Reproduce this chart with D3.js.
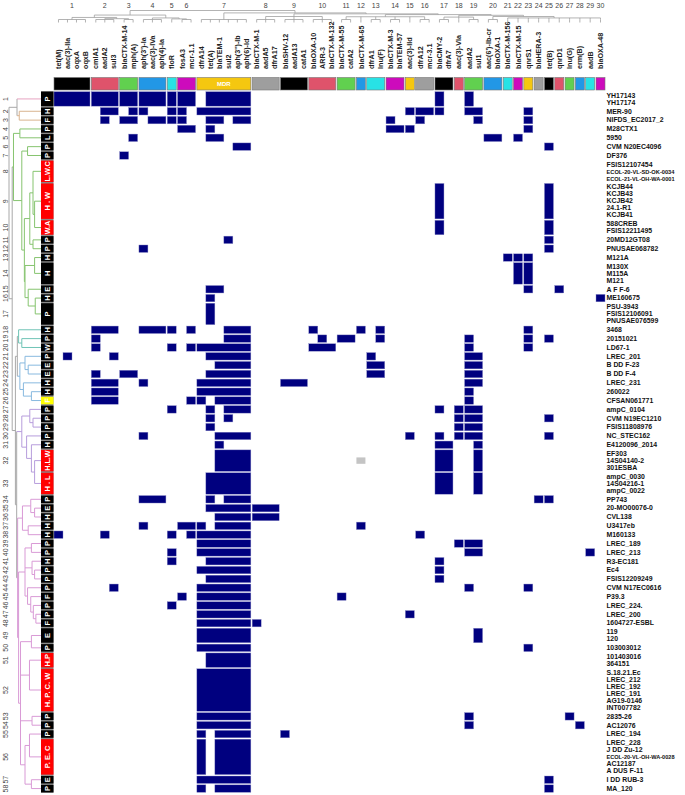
<!DOCTYPE html>
<html><head><meta charset="utf-8">
<script src="https://cdn.jsdelivr.net/npm/d3@7"></script>
<style>body{margin:0;background:#fff} svg{display:block} text{font-family:"Liberation Sans",Arial,sans-serif}
.nar{font-family:"Liberation Sans Narrow","Arial Narrow","Liberation Sans",Arial,sans-serif}</style>
</head><body><svg id="c" width="685" height="795"></svg>
<script>
// ---------------- DATA ----------------
const genes = ["tet(M)","aac(3)-IIa","oqxA","oqxB","cmlA1","aadA2","sul3","blaCTX-M-14","mph(A)",
 "aph(3')-Ia","aac(3)-IVa","aph(4)-Ia","floR","fosA3","mcr-1.1","dfrA14","tet(A)","blaTEM-1","sul2",
 "aph(3'')-Ib","aph(6)-Id","blaCTX-M-1","aadA5","dfrA17","blaSHV-12","aadA13","catA1","blaOXA-10","ARR-3",
 "blaCTX-M-132","blaCTX-M-55","catA2","blaCTX-M-65","dfrA1","lnu(F)","blaCTX-M-3","blaTEM-57","aac(3)-IId",
 "dfrA12","mcr-3.1","blaCMY-2","dfrA7","aac(3)-VIa","aadA2","sul1","aac(6')-Ib-cr","blaOXA-1","blaCTX-M-156",
 "blaCTX-M-15","qnrS1","blaHERA-3","tet(B)","qnrD1","lnu(G)","erm(B)","aadB","blaOXA-48"];
const geneGroup = [1,1,1,1,2,2,2,3,3,4,4,4,5,6,6,7,7,7,7,7,7,8,8,8,9,9,9,10,10,10,11,11,12,13,13,14,14,15,16,16,
 17,17,18,19,19,20,20,21,22,23,24,25,26,27,28,29,30];
const groupColors = ["#000000","#DF536B","#61D04F","#2297E6","#28E2E5","#CD0BBC","#F5C710","#9E9E9E"];
const groupLabels = {7: "MDR"};
const clusterSizes = [2,1,1,1,1,1,1,3,5,2,1,1,1,3,1,1,3,1,1,1,1,1,1,1,1,1,1,1,1,1,1,3,3,1,1,1,1,1,1,1,1,1,1,1,1,1,1,1,2,1,2,6,1,1,1,5,1,1];
const clusterSource = ["P","H","F","P","L","P","P","L.W.C","H . W","W.A","P","P","H","H","E","H","P","H","P","W","P","E","E","H","H","F",
 "P","P","P","P","H","H.L.W","H . L","P","E","H","H","H","P","P","H","P","P","P","F","P","P","F","E","P","H.P","H. P. C. W","P","P","P","P. E. C","E","P"];
const clusterBox = ["k","k","k","k","k","k","k","r","r","r","k","k","k","k","k","k","k","k","k","k","k","k","k","k","k","y",
 "k","k","k","k","k","r","r","k","k","k","k","k","k","k","k","k","k","k","k","k","k","k","k","k","r","r","k","k","k","r","k","k"];
const strains = ["YH17143","YH17174","MER-90","NIFDS_EC2017_2","M28CTX1","5950","CVM N20EC4096","DF376","FSIS12107454",
 "ECOL-20-VL-SD-OK-0034","ECOL-21-VL-OH-WA-0001","KCJB44","KCJB43","KCJB42","24.1-R1","KCJB41","588CREB","FSIS12211495",
 "20MD12GT08","PNUSAE068782","M121A","M130X","M115A","M121","A F F-6","ME160675","PSU-3943","FSIS12106091","PNUSAE076599",
 "3468","20151021","LD67-1","LREC_201","B DD F-23","B DD F-4","LREC_231","260022","CFSAN061771","ampC_0104","CVM N19EC1210",
 "FSIS11808976","NC_STEC162","E4120096_2014","EF303","14S04140-2","301ESBA","ampC_0030","14S04216-1","ampC_0022","PP743",
 "20-MO00076-0","CVL138","U3417eb","M160133","LREC_189","LREC_213","R3-EC181","Ec4","FSIS12209249","CVM N17EC0616","P39.3",
 "LREC_224.","LREC_200","1604727-ESBL","119","120","103003012","101403016","364151","S.18.21.Ec","LREC_212","LREC_192",
 "LREC_191","AG19-0146","INT007782","2835-26","AC12076","LREC_194","LREC_228","J DD Zu-12","ECOL-20-VL-OH-WA-0028",
 "AC12187","A DUS F-11","I DD RUB-3","MA_120"];
// gene indices present in each cluster (1..58)
const presence = [
 [0,1,2,3,4,5,6,7,8,9,10,11,12,13,14,16,17,18,19,20,40,43],
 [5,6,8,9,12,13,15,16,17,18,19,20,37,38,39,40,43,44,49],
 [5,7,8,10,11,12,13,16,17,19,20,35,38,44,49],
 [13,14,16,35,36,37,49],
 [8,16,17,45,46,48],
 [19,20,51],
 [7],
 [],
 [40,51],
 [40,51],
 [18,51],
 [9,51],
 [47,48,49],
 [48,49],
 [16,17,49,52],
 [16,56],
 [16],
 [4,5,6,9,10,11,12,14,18,19,20,27,32,34,49],
 [4,18,19,20,28,30,31,34,43,49,51],
 [4,12,14,15,16,17,18,19,20,27,28,29,43,49],
 [1,6,16,17,18,19,20,33,43,44],
 [17,18,19,20,33,34,43,44],
 [4,7,8,16,17,18,19,20,33,34,43,44],
 [4,5,6,9,15,16,17,18,19,20,24,25,26,43,44],
 [4,5,6,15,16,17,18,19,20,43],
 [4,5,6,14,15,17,18,19,20,43],
 [12,16,18,19,20,40,42,43,44],
 [16,18,42,43,44,51],
 [16,42,43,44],
 [9,17,18,19,20,37,40,42,43,44,51],
 [17,40,41,44],
 [17,18,19,20,40,41,44],
 [16,17,18,19,20,40,41,44],
 [9,10,11,16,18,19,20,50,51],
 [16,17,18,19,20,21,22,23],
 [17,18,19,20,21,22,23],
 [9,13,14,15,17,18,19,20,32],
 [0,5,12,14,15,16,17,18,19,20,38],
 [15,16,17,18,19,20,42,43,44],
 [12,15,16,17,18,19,20,43,44,55],
 [12,16,17,18,19,20,40],
 [15,16,17,18,19,20,40],
 [16,17,18,19,20,40],
 [6,15,16,17,18,19,20,43,49],
 [13,15,16,17,18,19,20,30],
 [12,15,16,17,18,19,20],
 [15,16,17,18,19,20,37],
 [15,16,17,18,19,20,21],
 [15,16,17,18,19,20,44],
 [15,16,17,18,19,20,49],
 [16,17,18,19,20],
 [15,16,17,18,19,20],
 [15,16,17,18,19,20,43,53],
 [15,16,17,18,19,20,43,54],
 [15,17,18,19,20,24],
 [15,17,18,19,20],
 [15,16,17,18,19,20,51],
 [15,17,18,19,20,51]
];
// partial hits: [cluster, strain within cluster, gene index]
const partial = [[32,1,32]];
// row dendrogram: [height, children...], leaves = cluster numbers
const rowTree = [1.0,
 [0.75, 1, [0.68, 2, 3]],
 [0.9,
  [0.86, [0.66, 4, 5], [0.6, [0.42, 6, 7], [0.52, [0.35, [0.25, 8, [0.2, 9, 10]], [0.25, 11, 12]], [0.5, [0.2, 13, 14], [0.4, 15, [0.18, 16, 17]]]]]],
  [0.8,
   [0.74, [0.7, 18, [0.6, 19, 20]], [0.66, [0.5, 21, [0.4, 22, 23]], [0.55, 24, [0.3, 25, 26]]]],
   [0.76, [0.6, [0.35, 27, [0.25, 28, 29]], [0.45, 30, [0.3, 31, [0.2, 32, 33]]]],
    [0.73, [0.58, [0.32, 34, [0.2, 35, 36]], [0.4, 37, 38]],
     [0.7, [0.5, [0.3, 39, 40], [0.28, 41, [0.2, 42, 43]], [0.42, 44, [0.32, 45, [0.24, 46, [0.16, 47, 48]]]]],
      [0.64, [0.3, 49, 50], [0.36, 51, 52], [0.28, 53, 54], [0.5, [0.36, 55, 56], [0.3, 57, 58]]]]]]]]];
const rowClades = [[1,1,"#e7a3c1"],[2,3,"#d9b48f"],[4,17,"#86c46f"],[18,20,"#70c4b6"],[21,26,"#88b9df"],[27,33,"#b79ddc"],[34,58,"#d99ad6"]];
// column (gene group) dendrogram, leaves = group numbers
const colTree = [1.0,
 [0.62, [0.42, 1, [0.32, 2, 3]], [0.38, 4, [0.3, 5, 6]]],
 [0.8, 7, [0.72, [0.5, 8, 9, 10],
   [0.66, [0.48, 11, 12, 13, 14, 15, 16], [0.6, [0.45, 17, 18, 19], [0.5, 20, [0.38, 21, 22, 23, 24, 25, 26, 27, 28, 29, 30]]]]]]];

// ---------------- LAYOUT ----------------
const svg = d3.select("#c");
const nGenes = genes.length, nGroups = d3.max(geneGroup);
const gapU = 0.1456;
const unitOf = k => k + gapU * (geneGroup[k] - 1);
const x = d3.scaleLinear().domain([0, nGenes + gapU * (nGroups - 1)]).range([54, 605]);
const colX = k => x(unitOf(k));
const colW = x(1) - x(0);
const colC = k => colX(k) + colW / 2;

const gR = 0.264;
let acc = 0; const clStart = [], clEnd = [];
clusterSizes.forEach(n => { clStart.push(acc); acc += n + gR; clEnd.push(acc); });
const y = d3.scaleLinear().domain([0, acc]).range([91, 793]);
const clC = i => (y(clStart[i]) + y(clEnd[i])) / 2;

// shrink font size of a text until it fits maxW
function fitSize(sel, maxW, fs) {
  sel.each(function () {
    const w = this.getComputedTextLength();
    if (w > maxW) d3.select(this).attr("font-size", (fs * maxW / w).toFixed(2));
  });
}

// ---- cells (merge runs within the same group) ----
const navy = "#00007f";
presence.forEach((list, ci) => {
  const s = [...list].sort((a, b) => a - b);
  let runs = [];
  s.forEach(k => {
    const r = runs[runs.length - 1];
    if (r && r[1] === k - 1 && geneGroup[k] === geneGroup[r[0]]) r[1] = k; else runs.push([k, k]);
  });
  runs.forEach(([a, b]) => {
    svg.append("rect").attr("x", colX(a)).attr("width", colX(b) + colW - colX(a))
      .attr("y", y(clStart[ci]) + 0.7).attr("height", y(clEnd[ci]) - y(clStart[ci]) - 1.4)
      .attr("fill", navy).attr("stroke", "#8e8ec8").attr("stroke-width", 0.4);
  });
});
partial.forEach(([c, si, k]) => {
  const y0 = y(clStart[c - 1] + gR / 2 + si);
  svg.append("rect").attr("x", colX(k)).attr("width", colW).attr("y", y0 + 0.3).attr("height", y(1) - y(0) - 0.6).attr("fill", "#c4c4c4");
});

// ---- strain labels ----
let si = 0;
clusterSizes.forEach((n, ci) => {
  for (let j = 0; j < n; j++) {
    const yc = y(clStart[ci] + gR / 2 + j + 0.5);
    const t = svg.append("text").attr("class", "nar").attr("x", 606.5).attr("y", yc + 2.3).attr("font-size", 6.9).attr("font-weight", "bold")
      .attr("fill", "#111").text(strains[si++]);
    fitSize(t, 68, 6.9);
  }
});

// ---- left source boxes ----
svg.append("rect").attr("x", 41).attr("y", y(0)).attr("width", 12.5).attr("height", y(acc) - y(0)).attr("fill", "#8a8a8a");
const boxCol = {k: "#000000", r: "#ff0000", y: "#ffff00"};
clusterSizes.forEach((n, ci) => {
  const h = y(clEnd[ci]) - y(clStart[ci]) - 1.4;
  svg.append("rect").attr("x", 41).attr("width", 12.5).attr("y", y(clStart[ci]) + 0.7)
    .attr("height", h).attr("fill", boxCol[clusterBox[ci]]);
  const t = svg.append("text").attr("transform", `translate(${47.4},${clC(ci)}) rotate(-90)`)
    .attr("text-anchor", "middle").attr("dy", "0.36em").attr("font-size", 7.5).attr("font-weight", "bold")
    .attr("fill", "#fff").text(clusterSource[ci]);
  fitSize(t, h - 1, 7.5);
  svg.append("text").attr("transform", `translate(${7.5},${clC(ci)}) rotate(-90)`)
    .attr("text-anchor", "middle").attr("font-size", 7).attr("fill", "#444").text(ci + 1);
});

// ---- row dendrogram ----
const hx = d3.scaleLinear().domain([0, 1]).range([41, 9]);
function leaves(n) { return typeof n === "number" ? [n] : n.slice(1).flatMap(leaves); }
function cladeColor(n) {
  const l = leaves(n); const lo = d3.min(l), hi = d3.max(l);
  const c = rowClades.find(([a, b]) => lo >= a && hi <= b);
  return c ? c[2] : "#a8a8a8";
}
function drawRow(n) {
  if (typeof n === "number") return {x: hx(0), y: clC(n - 1)};
  const kids = n.slice(1).map(drawRow);
  const nx = hx(n[0]);
  const col = cladeColor(n);
  svg.append("line").attr("x1", nx).attr("x2", nx).attr("y1", kids[0].y).attr("y2", kids[kids.length - 1].y)
    .attr("stroke", col).attr("stroke-width", 1);
  n.slice(1).forEach((c, i) => {
    svg.append("line").attr("x1", nx).attr("x2", kids[i].x).attr("y1", kids[i].y).attr("y2", kids[i].y)
      .attr("stroke", cladeColor(c)).attr("stroke-width", 1);
  });
  return {x: nx, y: (kids[0].y + kids[kids.length - 1].y) / 2};
}
drawRow(rowTree);

// ---- header: group bars, gene labels, numbers ----
const groups = d3.range(1, nGroups + 1).map(g => {
  const ks = genes.map((_, k) => k).filter(k => geneGroup[k] === g);
  return {g, ks, x0: colX(ks[0]), x1: colX(ks[ks.length - 1]) + colW};
});
groups.forEach(d => {
  svg.append("rect").attr("x", d.x0).attr("y", 77.5).attr("width", d.x1 - d.x0).attr("height", 12.5)
    .attr("fill", groupColors[(d.g - 1) % 8]).attr("stroke", "#777").attr("stroke-width", 0.6);
  if (groupLabels[d.g]) svg.append("text").attr("x", (d.x0 + d.x1) / 2).attr("y", 86.3).attr("text-anchor", "middle")
    .attr("font-size", 6).attr("font-weight", "bold").attr("fill", "#fff").text(groupLabels[d.g]);
  svg.append("text").attr("x", (d.x0 + d.x1) / 2).attr("y", 8).attr("text-anchor", "middle")
    .attr("font-size", 7).attr("fill", "#444").text(d.g);
});
genes.forEach((gname, k) => {
  svg.append("text").attr("class", "nar").attr("transform", `translate(${colC(k) + 2.6},${69}) rotate(-90)`)
    .attr("font-size", 7.2).attr("font-weight", "bold").attr("fill", "#222").text(gname);
});

// ---- column dendrogram ----
const hy = d3.scaleLinear().domain([0, 1]).range([22.5, 10.5]);
const lineCol = "#a0a0a0";
function drawCol(n) {
  if (typeof n === "number") {
    const d = groups[n - 1];
    const cs = d.ks.map(colC);
    const by = hy(0.25);
    if (cs.length > 1) {
      svg.append("line").attr("x1", cs[0]).attr("x2", cs[cs.length - 1]).attr("y1", by).attr("y2", by).attr("stroke", lineCol).attr("stroke-width", 0.8);
    }
    cs.forEach(c => svg.append("line").attr("x1", c).attr("x2", c).attr("y1", by).attr("y2", hy(0)).attr("stroke", lineCol).attr("stroke-width", 0.8));
    return {x: (cs[0] + cs[cs.length - 1]) / 2, y: by};
  }
  const kids = n.slice(1).map(drawCol);
  const ny = hy(n[0]);
  svg.append("line").attr("x1", kids[0].x).attr("x2", kids[kids.length - 1].x).attr("y1", ny).attr("y2", ny).attr("stroke", lineCol).attr("stroke-width", 0.8);
  kids.forEach(k => svg.append("line").attr("x1", k.x).attr("x2", k.x).attr("y1", ny).attr("y2", k.y).attr("stroke", lineCol).attr("stroke-width", 0.8));
  return {x: (kids[0].x + kids[kids.length - 1].x) / 2, y: ny};
}
drawCol(colTree);
</script></body></html>
